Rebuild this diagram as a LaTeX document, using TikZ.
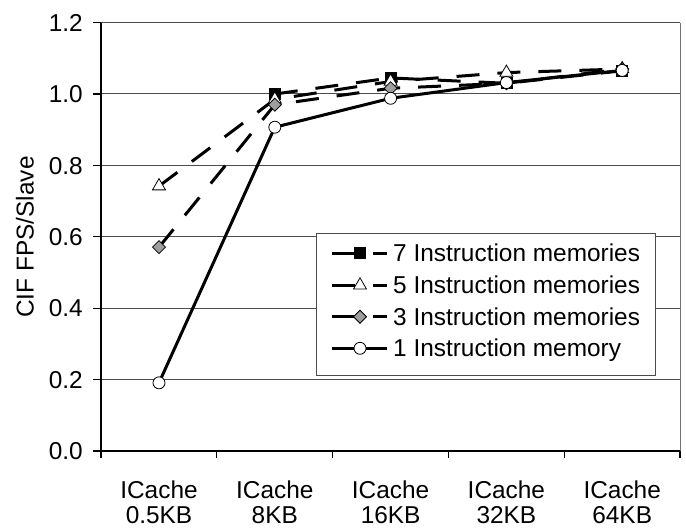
\documentclass[tikz,border=0pt]{standalone}
\usepackage{fontspec}
\setmainfont{Liberation Sans}
\usetikzlibrary{shapes.geometric}
\newcommand\datapt[3]{\coordinate (#1) at ({159+115.8*#2},{451-357*#3});}
\begin{document}
\begin{tikzpicture}[x=1pt,y=-1pt,
  lbl/.style={font=\fontsize{24.4}{26}\selectfont, inner sep=0pt},
  gridln/.style={draw=black!70, line width=1pt},
  axisln/.style={draw=black, line width=1.2pt},
  serline/.style={line width=3pt, line join=round},
  dashline/.style={serline, dash pattern=on 23pt off 18pt},
  mk/.style={draw=black, line width=0.8pt, inner sep=0pt, outer sep=0pt},
  sqmk/.style={mk, rectangle, fill=black, minimum size=11pt},
  trimk/.style={mk, regular polygon, regular polygon sides=3, fill=white, minimum size=15pt},
  diamk/.style={mk, diamond, fill=black!38, minimum width=13pt, minimum height=13pt},
  cirmk/.style={mk, circle, fill=white, minimum size=12pt},
]
\useasboundingbox (0,0) rectangle (686,529);

% gridlines
\foreach \v in {0.2,0.4,0.6,0.8,1.0,1.2}
  \draw[gridln] (101,{451-357*\v}) -- (680,{451-357*\v});
% right border of plot area
\draw[draw=black!55, line width=1pt] (680,22.6) -- (680,451);

% axes
\draw[axisln] (101,22.6) -- (101,451);
\draw[axisln] (101,451) -- (680,451);
\foreach \v in {0,0.2,0.4,0.6,0.8,1.0,1.2}
  \draw[axisln] (93,{451-357*\v}) -- (101,{451-357*\v});
\foreach \i in {0,...,5}
  \draw[axisln] ({101+115.8*\i},451) -- ({101+115.8*\i},458);

% y tick labels
\foreach \v/\t [count=\k] in {0/0.0,0.2/0.2,0.4/0.4,0.6/0.6,0.8/0.8,1.0/1.0,1.2/1.2}
  \node[lbl, anchor=base east] (yl\k) at (83,{451-357*\v+8.7}) {\t};
% y axis title
\node[lbl, rotate=90] (ytitle) at (25,237) {CIF FPS/Slave};

% x labels
\foreach \i/\t in {0/0.5KB,1/8KB,2/16KB,3/32KB,4/64KB}{
  \node[lbl, anchor=base] (xa\i) at ({159+115.8*\i},498.5) {ICache};
  \node[lbl, anchor=base] (xb\i) at ({159+115.8*\i},523.5) {\t};
}

% data: 7 instruction memories (squares)
\datapt{a1}{1}{1.00}\datapt{a2}{2}{1.045}\datapt{a3}{3}{1.03}\datapt{a4}{4}{1.065}
% 5 instruction memories (triangles)
\datapt{b0}{0}{0.742}\datapt{b1}{1}{0.985}\datapt{b2}{2}{1.035}\datapt{b3}{3}{1.06}\datapt{b4}{4}{1.07}
% 3 instruction memories (diamonds)
\datapt{c0}{0}{0.571}\datapt{c1}{1}{0.97}\datapt{c2}{2}{1.016}\datapt{c3}{3}{1.03}\datapt{c4}{4}{1.07}
% 1 instruction memory (circles)
\datapt{d0}{0}{0.191}\datapt{d1}{1}{0.907}\datapt{d2}{2}{0.988}\datapt{d3}{3}{1.032}\datapt{d4}{4}{1.066}

\draw[dashline] (a1) -- (a2) -- (a3) -- (a4);
\foreach \n in {a1,a2,a3,a4} \node[sqmk] (m\n) at (\n) {};
\draw[dashline] (b0) -- (b1) -- (b2) -- (b3) -- (b4);
\foreach \n in {b0,b1,b2,b3,b4} \node[trimk] (m\n) at (\n) {};
\draw[dashline] (c0) -- (c1) -- (c2) -- (c3) -- (c4);
\foreach \n in {c0,c1,c2,c3,c4} \node[diamk] (m\n) at (\n) {};
\draw[serline] (d0) -- (d1) -- (d2) -- (d3) -- (d4);
\foreach \n in {d0,d1,d2,d3,d4} \node[cirmk] (m\n) at (\n) {};

% legend
\node[draw=black!70, fill=white, line width=1pt, anchor=north west,
      minimum width=339pt, minimum height=142pt, inner sep=0pt] (legend) at (316,233) {};
\foreach \y/\k in {253.3/1,285.3/2,316.7/3,348.3/4}{
  \coordinate (ls\k) at (332,\y);
  \coordinate (le\k) at (387,\y);
  \coordinate (lm\k) at (360,\y);
}
\draw[dashline] (ls1) -- (le1); \node[sqmk] (lk1) at (lm1) {};
\draw[dashline] (ls2) -- (le2); \node[trimk] (lk2) at (lm2) {};
\draw[dashline] (ls3) -- (le3); \node[diamk] (lk3) at (lm3) {};
\draw[serline] (ls4) -- (le4); \node[cirmk] (lk4) at (lm4) {};
\node[lbl, anchor=base west] (lt1) at (393,{253.3+8.7}) {7 Instruction memories};
\node[lbl, anchor=base west] (lt2) at (393,{285.3+8.7}) {5 Instruction memories};
\node[lbl, anchor=base west] (lt3) at (393,{316.7+8.7}) {3 Instruction memories};
\node[lbl, anchor=base west] (lt4) at (393,{348.3+8.7}) {1 Instruction memory};
\end{tikzpicture}
\end{document}
